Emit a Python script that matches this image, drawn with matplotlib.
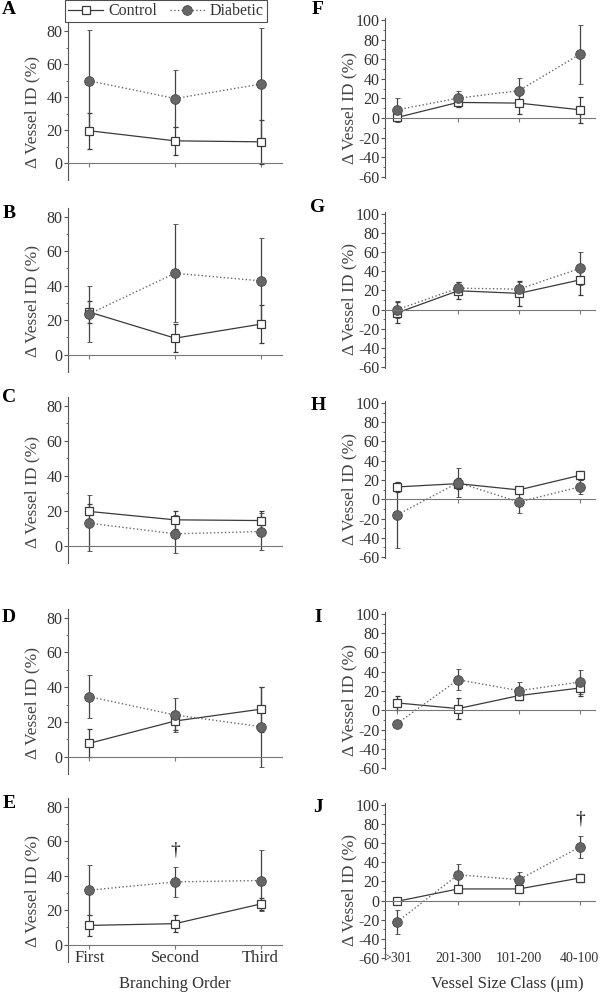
import matplotlib
matplotlib.use('Agg')
import matplotlib.pyplot as plt

plt.rcParams['font.family'] = ['Liberation Serif', 'DejaVu Serif']
plt.rcParams['axes.unicode_minus'] = False

# categories
branch_labels = ['First', 'Second', 'Third']
size_labels = ['>301', '201-300', '101-200', '40-100']
left_letters = ['A', 'B', 'C', 'D', 'E']
right_letters = ['F', 'G', 'H', 'I', 'J']

# left column: % change by branching order (mean, error)
left_ctrl = [[19.8, 13.7, 13.1], [24.7, 9.6, 17.7], [19.5, 14.7, 14.3],
             [7.7, 20.5, 27.3], [11.2, 12.2, 23.6]]
left_ctrl_err = [[10.9, 8.5, 13.5], [6.5, 8.3, 11.0], [4.5, 5.0, 5.7],
                 [8.0, 5.0, 13.0], [6.0, 5.0, 3.3]]
left_diab = [[50.0, 39.3, 48.0], [23.7, 47.2, 42.8], [12.8, 6.7, 8.0],
             [34.5, 24.0, 17.3], [31.6, 36.4, 37.2]]
left_diab_err = [[30.5, 17.2, 33.7], [16.4, 28.5, 25.0], [16.0, 11.0, 10.5],
                 [12.3, 10.0, 23.0], [14.5, 8.5, 17.6]]

# right column: % change by vessel size class (mean, error)
right_ctrl = [[0.7, 16.0, 15.3, 8.5], [-3.4, 19.7, 17.0, 31.0], [12.8, 16.2, 9.7, 24.8],
              [7.6, 1.7, 15.2, 23.1], [-0.7, 12.2, 12.2, 23.6]]
right_ctrl_err = [[4.0, 5.0, 11.0, 13.0], [11.0, 9.0, 13.0, 16.0], [5.0, 6.0, 3.0, 4.5],
                  [7.6, 11.0, 5.0, 8.6], [2.0, 4.0, 3.0, 4.5]]
right_diab = [[8.5, 20.3, 28.0, 65.0], [0.0, 22.4, 21.4, 43.0], [-16.2, 17.2, -2.8, 12.8],
              [-13.8, 31.7, 20.3, 29.3], [-22.2, 27.0, 21.9, 56.0]]
right_diab_err = [[12.0, 7.0, 12.7, 30.0], [9.0, 6.0, 7.6, 17.0], [34.0, 15.0, 11.7, 7.0],
                  [3.0, 11.0, 9.0, 12.7], [12.3, 11.5, 8.0, 11.7]]

W, H = 600, 993
fig = plt.figure(figsize=(W / 100, H / 100), dpi=100)

# axes boxes in pixels (top, bottom)
left_boxes = [(23, 180), (208, 372), (397, 563), (609, 774), (798, 962)]
right_boxes = [(18, 178), (212, 368), (401, 558), (612, 769), (803, 959)]
letter_pos_left = [10, 213, 397, 618, 804]
letter_pos_right = [10, 208, 405, 618, 808]

AX = '#555555'
TXT = '#333333'


def add_ax(x0, x1, top, bottom):
    return fig.add_axes([x0 / W, 1 - bottom / H, (x1 - x0) / W, (bottom - top) / H])


def style(ax, ylim, yticks, yminor):
    ax.set_ylim(*ylim)
    ax.set_yticks(yticks)
    ax.set_yticks(yminor, minor=True)
    ax.spines['top'].set_visible(False)
    ax.spines['right'].set_visible(False)
    ax.spines['left'].set_color(AX)
    ax.spines['bottom'].set_position(('data', 0))
    ax.spines['bottom'].set_color('#777777')
    ax.tick_params(axis='y', direction='out', length=3, width=0.8, color=AX,
                   labelsize=11.5, labelcolor=TXT, pad=1)
    ax.tick_params(axis='y', which='minor', length=1.5, width=0.6, color=AX)
    ax.tick_params(axis='x', direction='out', length=3, width=0.8, color='#777777',
                   labelsize=11.5, labelcolor=TXT)
    ax.set_ylabel('Δ Vessel ID (%)', fontsize=12.5, color='#444444')


def draw(ax, x, ctrl, ce, diab, de):
    h1 = ax.errorbar(x, ctrl, yerr=ce, color='#3a3a3a', ls='-', lw=0.9, marker='s',
                     ms=6, mfc='white', mec='#3a3a3a', mew=0.9, ecolor='#3a3a3a',
                     elinewidth=0.9, capsize=1.8, capthick=0.9, label='Control')
    h2 = ax.errorbar(x, diab, yerr=de, color='#6a6a6a', ls=':', lw=1.0, marker='o',
                     ms=7, mfc='#666666', mec='#4a4a4a', mew=0.6, ecolor='#444444',
                     elinewidth=0.9, capsize=1.8, capthick=0.9, label='Diabetic')
    return h1.lines[0], h2.lines[0]


handles = None
for i in range(5):
    top, bottom = left_boxes[i]
    ax = add_ax(68, 282, top, bottom)
    x = list(range(1, len(branch_labels) + 1))
    handles = draw(ax, x, left_ctrl[i], left_ctrl_err[i], left_diab[i], left_diab_err[i])
    style(ax, (-10, 85), [0, 20, 40, 60, 80], [10, 30, 50, 70])
    ax.set_xlim(0.75, 3.25)
    ax.set_xticks(x)
    ax.yaxis.set_label_coords(-0.13, 0.43)
    if i == 4:
        ax.set_xticklabels(branch_labels, fontsize=12)
        ax.tick_params(axis='x', pad=1)
        ax.set_xlabel('Branching Order', fontsize=12, color=TXT)
        ax.xaxis.label.set_va('top')
        ax.xaxis.set_label_coords(0.5, (962 - 976) / 164)
        ax.text(2, 55, '†', ha='center', va='center', fontsize=14, color='#111111')
    else:
        ax.set_xticklabels([])
    fig.text(9 / W, 1 - letter_pos_left[i] / H, left_letters[i], fontsize=14,
             fontweight='bold', ha='center', va='center')

for i in range(5):
    top, bottom = right_boxes[i]
    ax = add_ax(385, 595, top, bottom)
    x = list(range(1, len(size_labels) + 1))
    draw(ax, x, right_ctrl[i], right_ctrl_err[i], right_diab[i], right_diab_err[i])
    style(ax, (-61, 102), list(range(-60, 101, 20)), list(range(-50, 100, 20)))
    ax.set_xlim(0.8, 4.25)
    ax.set_xticks(x)
    ax.set_xticklabels([])
    ax.yaxis.set_label_coords(-0.13, 0.44)
    if i == 4:
        sec = ax.secondary_xaxis('bottom')
        sec.set_xticks(x)
        sec.set_xticklabels(size_labels, fontsize=10, color=TXT)
        sec.tick_params(length=0, pad=-5)
        sec.spines['bottom'].set_visible(False)
        sec.set_xlabel('Vessel Size Class (μm)', fontsize=12, color=TXT)
        sec.xaxis.label.set_va('top')
        sec.xaxis.set_label_coords((507 - 385) / 210, (959 - 976) / 156,
                                   transform=ax.transAxes)
        ax.text(4, 85, '†', ha='center', va='center', fontsize=14, color='#111111')
    fig.text(318 / W, 1 - letter_pos_right[i] / H, right_letters[i], fontsize=14,
             fontweight='bold', ha='center', va='center')

leg = fig.legend(handles, ['Control', 'Diabetic'], loc='upper center',
                 bbox_to_anchor=(166 / W, 1.0), ncol=2, fontsize=11.5, frameon=True,
                 fancybox=False, edgecolor='#222222', handlelength=2.2,
                 handletextpad=0.3, columnspacing=0.8, borderpad=0.2,
                 borderaxespad=0.0)
leg.get_frame().set_linewidth(0.8)
for t in leg.get_texts():
    t.set_color(TXT)

fig.savefig('out.png', dpi=100)
